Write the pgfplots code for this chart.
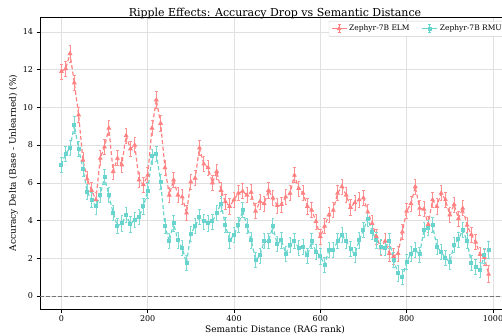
\documentclass[border=0pt]{standalone}
\usepackage{fontspec}
\setmainfont{DejaVu Serif}
\usepackage{pgfplots}
\usepackage{pgfplotstable}
\pgfplotsset{compat=1.18}

\definecolor{elm}{HTML}{FF6B6B}
\definecolor{rmu}{HTML}{4ECDC4}

% Accuracy delta per RAG rank, with standard error
\pgfplotstableread{
x y e
0 11.90 0.40
10 12.05 0.40
20 12.85 0.45
30 11.30 0.40
40 9.60 0.40
50 7.20 0.40
60 6.20 0.40
70 5.60 0.40
80 5.10 0.40
90 7.30 0.40
100 7.90 0.40
110 8.90 0.40
120 6.60 0.40
130 7.30 0.40
140 6.95 0.40
150 8.50 0.40
160 7.80 0.40
170 8.00 0.40
180 6.15 0.40
190 5.90 0.40
200 6.40 0.40
210 8.90 0.40
220 10.40 0.45
230 9.15 0.40
240 6.80 0.40
250 5.35 0.40
260 6.15 0.40
270 5.35 0.40
280 5.25 0.40
290 4.40 0.40
300 6.05 0.40
310 6.25 0.40
320 7.85 0.40
330 7.00 0.40
340 6.80 0.40
350 6.00 0.40
360 6.60 0.40
370 5.60 0.40
380 5.00 0.40
390 4.75 0.40
400 5.10 0.40
410 5.45 0.40
420 5.55 0.40
430 5.35 0.40
440 5.50 0.40
450 4.50 0.40
460 5.00 0.40
470 4.90 0.40
480 5.60 0.40
490 5.20 0.40
500 4.80 0.40
510 4.85 0.40
520 5.25 0.40
530 5.45 0.40
540 6.40 0.40
550 5.70 0.40
560 5.45 0.40
570 4.75 0.40
580 4.55 0.40
590 3.95 0.40
600 3.15 0.40
610 3.70 0.40
620 4.30 0.40
630 4.55 0.40
640 5.45 0.40
650 5.80 0.40
660 5.35 0.40
670 4.70 0.40
680 4.95 0.40
690 5.10 0.40
700 5.20 0.40
710 4.45 0.40
720 3.85 0.40
730 3.15 0.40
740 2.55 0.40
750 2.90 0.40
760 2.25 0.40
770 2.10 0.40
780 2.25 0.40
790 3.40 0.40
800 4.50 0.40
810 4.90 0.40
820 5.80 0.40
830 4.65 0.40
840 4.60 0.40
850 3.80 0.40
860 5.10 0.40
870 4.75 0.40
880 5.45 0.40
890 5.10 0.40
900 4.30 0.40
910 4.85 0.40
920 4.10 0.40
930 4.65 0.40
940 3.75 0.40
950 3.25 0.40
960 2.85 0.40
970 2.20 0.40
980 2.05 0.40
990 1.15 0.45
}\elmdata

\pgfplotstableread{
x y e
0 6.95 0.40
10 7.55 0.40
20 7.85 0.40
30 9.05 0.45
40 7.80 0.40
50 6.75 0.40
60 5.50 0.40
70 5.10 0.40
80 4.75 0.40
90 5.35 0.40
100 6.30 0.40
110 5.35 0.40
120 4.40 0.40
130 3.70 0.40
140 3.85 0.40
150 4.30 0.40
160 3.80 0.40
170 4.05 0.40
180 4.20 0.40
190 4.75 0.40
200 5.55 0.40
210 7.40 0.40
220 7.55 0.40
230 6.05 0.40
240 3.70 0.40
250 2.90 0.40
260 3.85 0.40
270 2.95 0.40
280 2.55 0.40
290 1.75 0.40
300 3.30 0.40
310 3.70 0.40
320 4.20 0.40
330 3.95 0.40
340 3.85 0.40
350 3.95 0.40
360 4.40 0.40
370 4.90 0.40
380 3.75 0.40
390 2.95 0.40
400 3.25 0.40
410 3.75 0.40
420 4.55 0.40
430 3.70 0.40
440 2.95 0.40
450 1.90 0.40
460 2.15 0.40
470 2.90 0.40
480 2.90 0.40
490 3.70 0.40
500 2.75 0.40
510 2.95 0.40
520 2.25 0.40
530 2.70 0.40
540 2.90 0.40
550 2.55 0.40
560 2.60 0.40
570 2.15 0.40
580 2.90 0.40
590 2.35 0.40
600 2.10 0.40
610 1.65 0.40
620 2.45 0.40
630 2.45 0.40
640 2.90 0.40
650 3.25 0.40
660 2.90 0.40
670 2.50 0.40
680 2.20 0.40
690 2.95 0.40
700 3.50 0.40
710 4.10 0.40
720 3.40 0.40
730 2.95 0.40
740 2.60 0.40
750 2.55 0.40
760 2.90 0.40
770 1.90 0.40
780 1.20 0.40
790 1.00 0.40
800 1.80 0.40
810 2.25 0.40
820 2.45 0.40
830 2.20 0.40
840 3.50 0.40
850 3.60 0.40
860 3.75 0.40
870 2.60 0.40
880 2.35 0.40
890 2.00 0.40
900 1.80 0.40
910 2.70 0.40
920 3.00 0.40
930 3.50 0.40
940 2.90 0.40
950 1.75 0.40
960 1.55 0.40
970 1.40 0.40
980 2.15 0.40
990 2.45 0.45
}\rmudata

\begin{document}
\begin{tikzpicture}
\begin{axis}[
  at={(0pt,0pt)}, anchor=south west,
  scale only axis, width=470pt, height=292pt,
  xmin=-49.5, xmax=1039.5, ymin=-0.69, ymax=14.79,
  xtick={0,200,400,600,800,1000},
  ytick={0,2,4,6,8,10,12,14},
  grid=major,
  major grid style={black!12, line width=0.6pt},
  axis line style={black, line width=0.8pt},
  tick align=outside, tick pos=left,
  major tick length=3.5pt,
  tick style={black, line width=0.6pt},
  ticklabel style={font=\fontsize{8}{9}\selectfont},
  /pgf/number format/assume math mode=true,
  /pgf/number format/1000 sep={},
  xlabel={Semantic Distance (RAG rank)},
  ylabel={Accuracy Delta (Base - Unlearned) (\%)},
  label style={font=\fontsize{9}{10}\selectfont},
  xlabel style={yshift=3pt},
  ylabel style={yshift=-2pt},
  title={Ripple Effects: Accuracy Drop vs Semantic Distance},
  title style={font=\fontsize{11}{12}\selectfont, yshift=-11pt},
  legend columns=2,
  legend style={
    at={(1,1)}, anchor=north east, xshift=-4pt, yshift=-4pt,
    font=\fontsize{7.5}{8}\selectfont,
    draw=black!20, rounded corners=1pt, inner sep=2pt,
    /tikz/every even column/.append style={column sep=10pt},
  },
  legend image code/.code={
    \draw[#1, solid] (0pt,0pt) -- (15pt,0pt);
    \draw[#1, solid, line width=0.8pt] (7.5pt,-4pt) -- (7.5pt,4pt);
    \draw[#1, solid, line width=0.7pt] (6pt,-4pt) -- (9pt,-4pt);
    \draw[#1, solid, line width=0.7pt] (6pt,4pt) -- (9pt,4pt);
    \path[#1, solid] plot coordinates {(7.5pt,0pt)};
  },
]
\addplot[forget plot, black!55, line width=0.9pt, dash pattern=on 4pt off 2pt]
  coordinates {(-49.5,0) (1039.5,0)};

\addplot[
  color=elm!85!white, line width=1.2pt, dash pattern=on 4pt off 2.5pt,
  mark=triangle*, mark size=1.7pt, mark options={solid, fill=elm!85!white},
  error bars/.cd, y dir=both, y explicit,
  error bar style={solid, line width=0.7pt, elm!75!white},
  error mark options={solid, line width=0.7pt, mark size=1.2pt, elm!75!white, rotate=90},
] table[x=x, y=y, y error=e] {\elmdata};
\addlegendentry{Zephyr-7B ELM}

\addplot[
  color=rmu!85!white, line width=1.2pt, dash pattern=on 4pt off 2.5pt,
  mark=square*, mark size=1.4pt, mark options={solid, fill=rmu!85!white},
  error bars/.cd, y dir=both, y explicit,
  error bar style={solid, line width=0.7pt, rmu!75!white},
  error mark options={solid, line width=0.7pt, mark size=1.2pt, rmu!75!white, rotate=90},
] table[x=x, y=y, y error=e] {\rmudata};
\addlegendentry{Zephyr-7B RMU}
\end{axis}
\pgfresetboundingbox
\path[use as bounding box] (-40pt,-26pt) rectangle (462pt,309pt);
\end{tikzpicture}
\end{document}
